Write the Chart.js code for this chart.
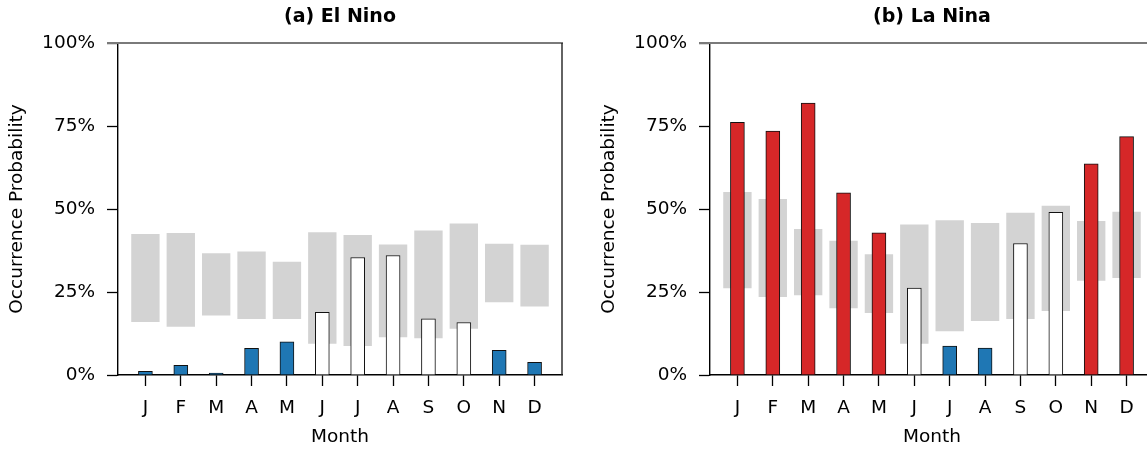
<!DOCTYPE html>
<html>
<head>
<meta charset="utf-8">
<script src="https://cdn.jsdelivr.net/npm/chart.js@4.4.1/dist/chart.umd.min.js"></script>
<style>
  html, body { margin: 0; padding: 0; background: #fff; overflow: hidden; width: 1147px; height: 451px; }
  canvas { position: absolute; top: 0; }
  #c1 { left: 0px; }
  #c2 { left: 592px; }
</style>
</head>
<body>
<canvas id="c1" width="573" height="451"></canvas>
<canvas id="c2" width="573" height="451"></canvas>
<script>
// ---- data ----
const months = ['J','F','M','A','M','J','J','A','S','O','N','D'];
const monthIndex = [0,1,2,3,4,5,6,7,8,9,10,11];
const yTicks = [0, 25, 50, 75, 100];

const elNinoProb = [1.1, 2.9, 0.6, 8.0, 10.0, 18.9, 35.4, 36.0, 16.9, 15.8, 7.4, 3.8];
const elNinoLow  = [16.1, 14.6, 18.0, 17.0, 17.0, 9.5, 8.8, 11.5, 11.2, 14.0, 22.0, 20.7];
const elNinoHigh = [42.4, 42.7, 36.6, 37.1, 34.0, 42.9, 42.1, 39.2, 43.4, 45.5, 39.4, 39.1];

const laNinaProb = [76.1, 73.5, 81.9, 54.9, 42.8, 26.2, 8.7, 8.1, 39.6, 49.0, 63.6, 71.8];
const laNinaLow  = [26.2, 23.6, 24.1, 20.2, 18.8, 9.5, 13.3, 16.4, 17.0, 19.4, 28.5, 29.3];
const laNinaHigh = [55.0, 52.9, 43.9, 40.3, 36.3, 45.2, 46.5, 45.7, 48.8, 50.9, 46.3, 49.1];

// ---- styles ----
const BLUE = '#1f77b4', RED = '#d62728', WHITE = '#ffffff', GRAY = '#d3d3d3';
const FONT = "'DejaVu Sans', 'Liberation Sans', sans-serif";

function barColors(prob, low, high) {
  return prob.map((v, i) => v < low[i] ? BLUE : (v > high[i] ? RED : WHITE));
}

const framePlugin = {
  id: 'frame',
  afterDraw(chart) {
    const {ctx, chartArea: a} = chart;
    ctx.save();
    ctx.strokeStyle = '#7a7a7a';
    ctx.lineWidth = 2;
    ctx.beginPath();
    ctx.moveTo(a.left - 11, a.top);
    ctx.lineTo(a.right + 1, a.top);
    ctx.stroke();
    ctx.strokeStyle = '#222';
    ctx.lineWidth = 1.4;
    ctx.beginPath();
    ctx.moveTo(a.right, a.top);
    ctx.lineTo(a.right, a.bottom);
    ctx.stroke();
    ctx.restore();
  }
};

function makeChart(id, title, prob, low, high) {
  const colors = barColors(prob, low, high);
  new Chart(document.getElementById(id), {
    type: 'bar',
    data: {
      datasets: [
        {
          label: 'prob',
          data: monthIndex.map(i => ({x: i, y: prob[i]})),
          backgroundColor: colors,
          borderColor: '#111',
          borderWidth: 1,
          grouped: false,
          barThickness: 14,
          order: 0
        },
        {
          label: 'range',
          data: monthIndex.map(i => ({x: i, y: [low[i], high[i]]})),
          backgroundColor: GRAY,
          borderWidth: 0,
          grouped: false,
          barThickness: 27.7,
          order: 1
        }
      ]
    },
    options: {
      responsive: false,
      animation: false,
      devicePixelRatio: 1,
      layout: { padding: { left: 0, right: 11, top: 0, bottom: 0 } },
      plugins: {
        legend: { display: false },
        tooltip: { enabled: false },
        title: {
          display: true,
          text: title,
          fullSize: false,
          color: '#000',
          font: { family: FONT, size: 19, weight: 'bold', lineHeight: 1.2 },
          padding: { top: 5.6, bottom: 14.6 }
        }
      },
      scales: {
        x: {
          type: 'linear',
          offset: false,
          min: -0.775,
          max: 11.775,
          afterBuildTicks(scale) { scale.ticks = monthIndex.map(v => ({value: v})); },
          afterFit(scale) { scale.height = 76; },
          ticks: {
            autoSkip: false,
            maxRotation: 0,
            color: '#000',
            padding: 11,
            font: { family: FONT, size: 18.5 },
            callback: (v) => months[v]
          },
          grid: { offset: false, drawOnChartArea: false, drawTicks: true, tickLength: 11, color: '#000', tickWidth: 1.3 },
          border: { display: true, color: '#000', width: 1.4 },
          title: {
            display: true,
            text: 'Month',
            color: '#000',
            font: { family: FONT, size: 18.5, lineHeight: 1.2 },
            padding: { top: 0, bottom: 3.2 }
          }
        },
        y: {
          min: 0,
          max: 100,
          afterBuildTicks(scale) { scale.ticks = yTicks.map(v => ({value: v})); },
          afterFit(scale) { scale.width = 118; },
          ticks: {
            color: '#000',
            padding: 12,
            font: { family: FONT, size: 18.5 },
            callback: (v) => v + '%'
          },
          grid: { drawOnChartArea: false, drawTicks: true, tickLength: 11, color: '#000', tickWidth: 1.3 },
          border: { display: true, color: '#000', width: 1.4 },
          title: {
            display: true,
            text: 'Occurrence Probability',
            color: '#000',
            font: { family: FONT, size: 18.5, lineHeight: 1.2 },
            padding: { top: 6.4, bottom: 0 }
          }
        }
      }
    },
    plugins: [framePlugin]
  });
}

makeChart('c1', '(a) El Nino', elNinoProb, elNinoLow, elNinoHigh);
makeChart('c2', '(b) La Nina', laNinaProb, laNinaLow, laNinaHigh);
</script>
</body>
</html>
